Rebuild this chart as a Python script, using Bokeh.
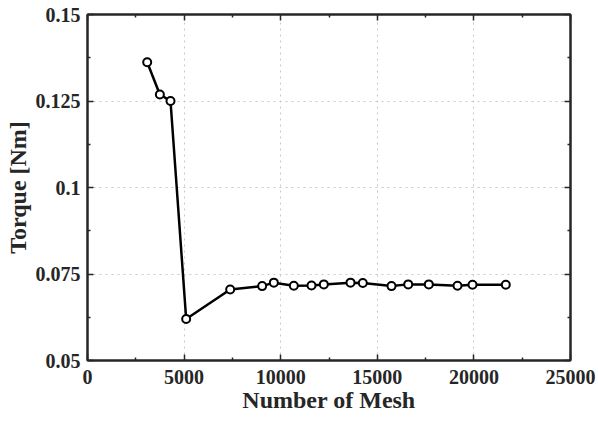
from bokeh.plotting import figure
from bokeh.models import Range1d, LinearAxis, FixedTicker, CustomJSTickFormatter
from bokeh.embed import file_html
from bokeh.resources import INLINE

mesh = [3090, 3745, 4296, 5107, 7385, 9040, 9645, 10680, 11594, 12232,
        13613, 14250, 15735, 16600, 17666, 19151, 19928, 21651]
torque = [0.1362, 0.1269, 0.1250, 0.0620, 0.0705, 0.0715, 0.0725, 0.0716, 0.0717,
          0.0720, 0.0725, 0.0724, 0.0715, 0.0720, 0.0720, 0.0716, 0.0719, 0.0719]

x_ticks = [0, 5000, 10000, 15000, 20000, 25000]
x_minor = [2500, 7500, 12500, 17500, 22500]
y_ticks = [0.05, 0.075, 0.1, 0.125, 0.15]
y_minor = [0.0625, 0.0875, 0.1125, 0.1375]

x_label = "Number of Mesh"
y_label = "Torque [Nm]"

FONT = "Liberation Serif"
AX = "#262626"

p = figure(width=598, height=421, output_backend="svg", toolbar_location=None,
           x_range=Range1d(0, 25000), y_range=Range1d(0.05, 0.15),
           x_axis_label=x_label, y_axis_label=y_label,
           min_border_left=87, min_border_right=28, min_border_top=14, min_border_bottom=61)
p.background_fill_color = "white"
p.border_fill_color = "white"
p.outline_line_color = AX
p.outline_line_width = 2

xt = FixedTicker(ticks=x_ticks, minor_ticks=x_minor)
yt = FixedTicker(ticks=y_ticks, minor_ticks=y_minor)
yfmt = CustomJSTickFormatter(code="return tick.toFixed(3).replace(/0+$/, '');")

p.xaxis.ticker = xt
p.yaxis.ticker = yt
p.yaxis.formatter = yfmt


def style_ticks(ax):
    ax.major_tick_in = 6
    ax.major_tick_out = 0
    ax.minor_tick_in = 3
    ax.minor_tick_out = 0
    ax.axis_line_color = AX
    ax.axis_line_width = 2
    ax.major_tick_line_color = AX
    ax.minor_tick_line_color = AX
    ax.major_tick_line_width = 1.5
    ax.minor_tick_line_width = 1.5


for ax in (p.xaxis, p.yaxis):
    style_ticks(ax)
    ax.major_label_text_font = FONT
    ax.major_label_text_font_style = "bold"
    ax.major_label_text_font_size = "20px"
    ax.major_label_text_color = AX
    ax.axis_label_text_font = FONT
    ax.axis_label_text_font_style = "bold"
    ax.axis_label_text_font_size = "24px"
    ax.axis_label_text_color = AX

p.xaxis.major_label_standoff = 9
p.xaxis.axis_label_standoff = 0
p.yaxis.major_label_standoff = 7
p.yaxis.axis_label_standoff = 2

empty = CustomJSTickFormatter(code="return '';")
top = LinearAxis(ticker=FixedTicker(ticks=x_ticks, minor_ticks=x_minor), formatter=empty)
right = LinearAxis(ticker=FixedTicker(ticks=y_ticks, minor_ticks=y_minor), formatter=empty)
for ax in (top, right):
    style_ticks(ax)
    ax.major_label_standoff = 0
    ax.major_label_text_font_size = "1px"
p.add_layout(top, "above")
p.add_layout(right, "right")

p.xgrid.ticker = xt
p.ygrid.ticker = yt
for g in (p.xgrid, p.ygrid):
    g.grid_line_color = "#c8c8c8"
    g.grid_line_dash = "dotted"
    g.grid_line_width = 1

p.line(mesh, torque, line_color="black", line_width=2.5)
p.scatter(mesh, torque, marker="circle", size=8, line_color="black", line_width=2,
          fill_color="white")

open("out.html", "w").write(file_html(p, INLINE))
